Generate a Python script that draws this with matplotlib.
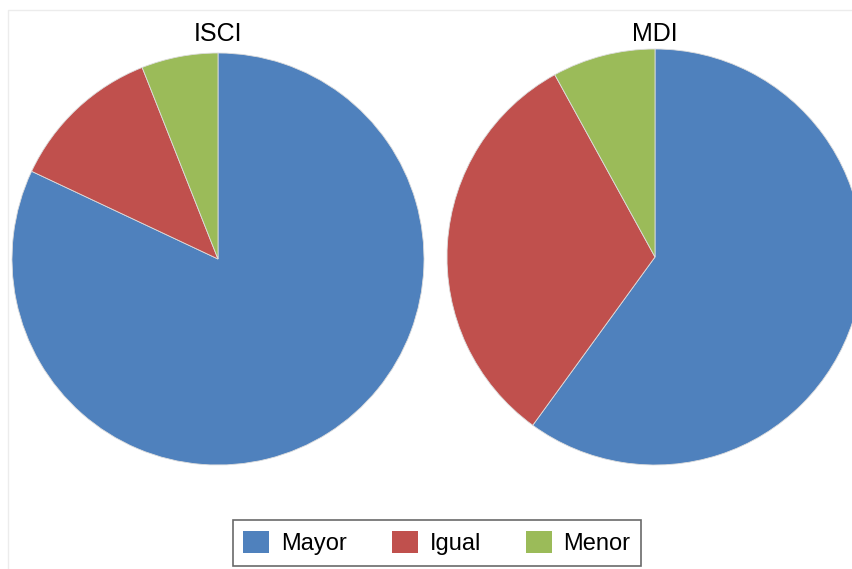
import matplotlib.pyplot as plt
from matplotlib.patches import Patch, Rectangle

# data (percent)
labels = ['Mayor', 'Igual', 'Menor']
isci = [82, 12, 6]
mdi = [60, 32, 8]
colors = ['#4F81BD', '#C0504D', '#9BBB59']

plt.rcParams['font.family'] = ['Liberation Sans', 'DejaVu Sans']

W, H = 853, 569
fig = plt.figure(figsize=(W / 100, H / 100), dpi=100)

# faint chart-area border
fig.patches.append(Rectangle((8 / W, -0.01), 1.0, (H - 10) / H + 0.01, transform=fig.transFigure,
                             fill=False, edgecolor='#ececec', lw=1.0))


def pie_at(cx, cy, r, vals, title):
    # cx, cy, r in pixels (cy from top)
    ax = fig.add_axes([(cx - r) / W, (H - cy - r) / H, 2 * r / W, 2 * r / H])
    ax.pie(vals, colors=colors, startangle=90, counterclock=False, radius=1,
           wedgeprops=dict(edgecolor='#dddddd', linewidth=0.6))
    ax.set_xlim(-1, 1)
    ax.set_ylim(-1, 1)
    ax.set_aspect('equal')
    ax.axis('off')
    fig.text(cx / W, (H - 34) / H, title, ha='center', va='center', fontsize=18)
    return ax


pie_at(218, 259, 206, isci, 'ISCI')
pie_at(655, 257, 208, mdi, 'MDI')

handles = [Patch(facecolor=c, edgecolor='none') for c in colors]
leg = fig.legend(handles, labels, loc='center', bbox_to_anchor=(437 / W, (H - 543) / H),
                 ncol=3, fontsize=17, frameon=True, fancybox=False, shadow=False,
                 handlelength=1.1, handleheight=1.1, handletextpad=0.5, columnspacing=1.9,
                 borderpad=0.45)
leg.get_frame().set_edgecolor('#444444')
leg.get_frame().set_linewidth(1.2)

fig.savefig('out.png', dpi=100)
